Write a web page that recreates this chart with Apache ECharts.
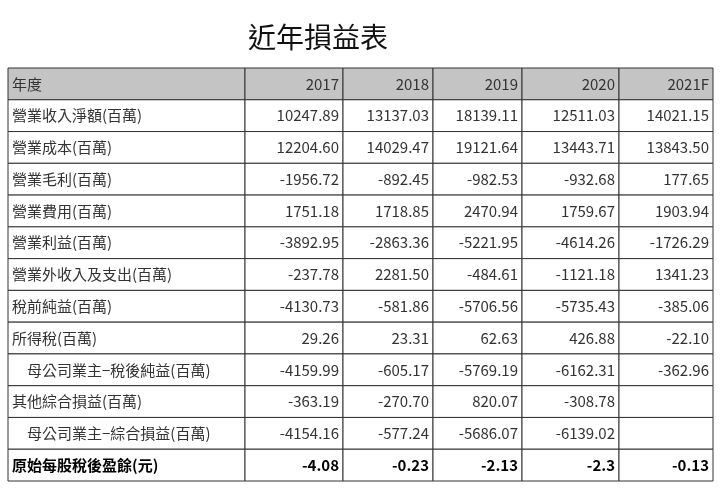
<!DOCTYPE html>
<html><head><meta charset="utf-8">
<script src="https://cdn.jsdelivr.net/npm/echarts@6/dist/echarts.min.js"></script>
<style>body{margin:0}#c{width:720px;height:489px}</style>
</head><body><div id="c"></div>
<script>
const header = ['年度', '2017', '2018', '2019', '2020', '2021F'];
const rowNames = ['營業收入淨額(百萬)', '營業成本(百萬)', '營業毛利(百萬)', '營業費用(百萬)', '營業利益(百萬)',
  '營業外收入及支出(百萬)', '稅前純益(百萬)', '所得稅(百萬)', '　母公司業主−稅後純益(百萬)', '其他綜合損益(百萬)',
  '　母公司業主−綜合損益(百萬)', '原始每股稅後盈餘(元)'];
const v2017 = ['10247.89', '12204.60', '-1956.72', '1751.18', '-3892.95', '-237.78', '-4130.73', '29.26', '-4159.99', '-363.19', '-4154.16', '-4.08'];
const v2018 = ['13137.03', '14029.47', '-892.45', '1718.85', '-2863.36', '2281.50', '-581.86', '23.31', '-605.17', '-270.70', '-577.24', '-0.23'];
const v2019 = ['18139.11', '19121.64', '-982.53', '2470.94', '-5221.95', '-484.61', '-5706.56', '62.63', '-5769.19', '820.07', '-5686.07', '-2.13'];
const v2020 = ['12511.03', '13443.71', '-932.68', '1759.67', '-4614.26', '-1121.18', '-5735.43', '426.88', '-6162.31', '-308.78', '-6139.02', '-2.3'];
const v2021 = ['14021.15', '13843.50', '177.65', '1903.94', '-1726.29', '1341.23', '-385.06', '-22.10', '-362.96', '', '', '-0.13'];

// column boundaries in x-axis units
const colEdges = [8, 245, 343, 433, 522, 619, 713];

const cols = [rowNames, v2017, v2018, v2019, v2020, v2021];
const cells = [];
header.forEach((h, c) => cells.push([c, 0, h]));
rowNames.forEach((_, r) => cols.forEach((col, c) => cells.push([c, r + 1, col[r]])));

const chart = echarts.init(document.getElementById('c'));
chart.setOption({
  title: { text: '近年損益表', left: 313, top: 18, textAlign: 'center',
    textStyle: { fontSize: 28, fontWeight: 'normal', color: '#111', fontFamily: 'Noto Sans CJK TC' } },
  grid: { left: 8, right: 7, top: 68, bottom: 8 },
  xAxis: { type: 'value', min: 8, max: 713, show: false },
  yAxis: { type: 'value', min: 0, max: 13, inverse: true, show: false },
  series: [{
    type: 'custom',
    data: cells,
    renderItem: function (params, api) {
      const c = api.value(0), r = api.value(1);
      const text = cells[params.dataIndex][2];
      const p0 = api.coord([colEdges[c], r]);
      const p1 = api.coord([colEdges[c + 1], r + 1]);
      const last = r === 12;
      return { type: 'group', children: [
        { type: 'rect', shape: { x: p0[0], y: p0[1], width: p1[0] - p0[0], height: p1[1] - p0[1] },
          style: { fill: r === 0 ? '#c4c4c4' : '#fff', stroke: '#333', lineWidth: 1 } },
        { type: 'text', style: {
            text: text, x: c === 0 ? p0[0] + 4 : p1[0] - 4, y: (p0[1] + p1[1]) / 2,
            align: c === 0 ? 'left' : 'right', verticalAlign: 'middle',
            fontSize: 15, fontWeight: last ? 'bold' : 'normal', fill: last ? '#000' : '#333',
            fontFamily: 'Noto Sans CJK TC' } }
      ] };
    }
  }]
});
</script></body></html>
